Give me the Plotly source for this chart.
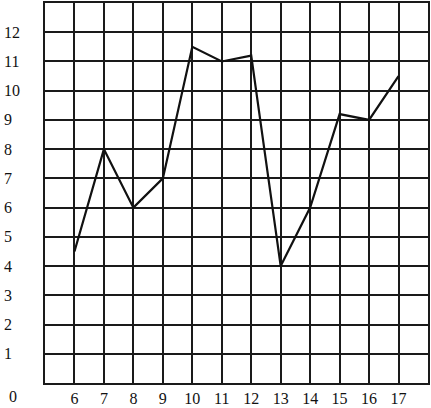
import plotly.graph_objects as go

# values
x_vals = [6, 7, 8, 9, 10, 11, 12, 13, 14, 15, 16, 17]
y_vals = [4.5, 8, 6, 7, 11.5, 11, 11.2, 4, 6, 9.2, 9, 10.5]
y_ticks = [1, 2, 3, 4, 5, 6, 7, 8, 9, 10, 11, 12]

serif = "Liberation Serif, Times New Roman, serif"

fig = go.Figure()
fig.add_trace(go.Scatter(
    x=x_vals, y=y_vals, mode='lines',
    line=dict(color='#111111', width=2.2),
    hoverinfo='skip'
))

grid = dict(showgrid=True, gridcolor='#1a1a1a', gridwidth=1.5,
            zeroline=False, showline=True, linecolor='#1a1a1a',
            linewidth=1.7, mirror=True, ticks='')

fig.update_layout(
    width=431, height=408,
    margin=dict(l=45, r=3, t=1, b=25),
    paper_bgcolor='white', plot_bgcolor='white',
    showlegend=False,
    font=dict(family=serif, size=16, color='#111111'),
    xaxis=dict(range=[5, 18], tickmode='array', tickvals=x_vals,
               ticktext=[str(v) for v in x_vals], **grid),
    yaxis=dict(range=[0, 13], dtick=1, showticklabels=False, **grid),
)

# y labels sit left-aligned at the page edge
for v in y_ticks:
    fig.add_annotation(x=-0.113, xref='paper', y=v, yref='y', text=str(v),
                       showarrow=False, xanchor='left', yanchor='middle',
                       font=dict(family=serif, size=16, color='#111111'))
# the lone "0" at the origin, on the x label row
fig.add_annotation(x=-0.1, xref='paper', y=-0.035, yref='paper', text='0',
                   showarrow=False, xanchor='left', yanchor='middle',
                   font=dict(family=serif, size=16, color='#111111'))

# drop the default body margin so the figure fills the window
fig.write_html("out.html", config={'displayModeBar': False},
               post_script="document.body.style.margin='0';")
